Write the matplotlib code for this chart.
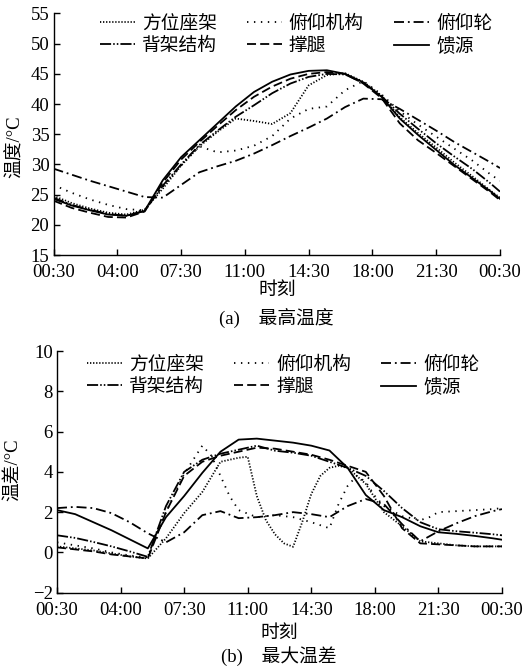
import matplotlib
matplotlib.use('Agg')
import matplotlib.pyplot as plt
from matplotlib.lines import Line2D

plt.rcParams['font.family'] = ['Liberation Serif', 'Noto Sans CJK SC']
plt.rcParams['axes.unicode_minus'] = True
plt.rcParams['lines.scale_dashes'] = False

# ---------------- data ----------------
hours = [0.5, 1.5, 2.5, 3.5, 4.5, 5.5, 6.5, 7.5, 8.5, 9.5, 10.5, 11.5, 12.5,
         13.5, 14.5, 15.5, 16.5, 17.5, 18.5, 19.5, 20.5, 21.5, 22.5, 23.5, 24.5, 25.0]
tick_hours = [0.5, 4, 7.5, 11, 14.5, 18, 21.5, 25]
tick_labels = ['00:30', '04:00', '07:30', '11:00', '14:30', '18:00', '21:30', '00:30']
names = ['方位座架', '俯仰机构', '俯仰轮', '背架结构', '撑腿', '馈源']

# (a) maximum temperature
t_fwzj = [24.8, 23.6, 22.7, 22.0, 21.7, 22.5, 26.0, 29.8, 33.0, 35.4, 37.6, 37.2, 36.7,
          38.5, 43.1, 44.8, 45.1, 43.7, 41.4, 37.8, 35.2, 32.8, 30.3, 28.0, 25.6, 24.5]
t_fyjg = [26.6, 25.3, 24.2, 23.3, 22.6, 22.4, 26.3, 29.8, 33.0, 32.0, 32.3, 33.1, 34.7,
          37.6, 39.2, 39.6, 42.3, 43.8, 41.6, 38.8, 36.6, 34.6, 32.6, 30.6, 28.3, 27.3]
t_fyl = [29.3, 28.3, 27.3, 26.4, 25.5, 24.6, 24.5, 26.6, 28.7, 29.7, 30.6, 31.8, 33.2,
         34.7, 36.1, 37.6, 39.5, 40.9, 40.8, 39.2, 37.4, 35.6, 33.7, 32.0, 30.3, 29.4]
t_bjjg = [24.5, 23.3, 22.5, 21.8, 21.5, 22.3, 26.5, 30.0, 33.2, 35.6, 37.9, 39.8, 41.8,
          43.4, 44.5, 45.0, 44.9, 43.5, 41.3, 38.4, 35.9, 33.5, 31.3, 29.2, 26.8, 25.5]
t_ct = [24.0, 22.8, 22.0, 21.3, 21.2, 22.2, 27.0, 30.8, 33.7, 36.4, 39.0, 41.2, 42.9,
        44.2, 45.0, 45.3, 45.0, 43.4, 41.0, 36.8, 34.0, 31.9, 29.7, 27.5, 25.3, 24.1]
t_ky = [24.3, 23.2, 22.4, 21.7, 21.5, 22.3, 27.4, 31.2, 34.0, 36.8, 39.6, 42.0, 43.7,
        44.9, 45.5, 45.6, 45.0, 43.6, 41.2, 37.6, 34.9, 32.4, 29.9, 27.7, 25.5, 24.3]

# (b) maximum temperature difference
d_hours_fwzj = [0.5, 1.5, 2.5, 3.5, 4.5, 5.5, 6.5, 7.5, 8.5, 9.5, 10.5, 11.0, 11.5, 12.0,
                12.5, 13.0, 13.5, 14.0, 14.5, 15.0, 15.5, 16.0, 16.5, 17.5, 18.5, 19.5,
                20.5, 21.5, 22.5, 23.5, 24.5, 25.0]
d_fwzj = [0.3, 0.2, 0.1, -0.05, -0.2, -0.3, 0.7, 1.95, 3.0, 4.5, 4.7, 4.75, 2.8, 1.6,
          0.9, 0.45, 0.28, 1.5, 2.9, 3.8, 4.2, 4.3, 4.2, 3.4, 2.0, 1.3,
          0.55, 0.45, 0.35, 0.3, 0.3, 0.3]
d_hours_fyjg = [0.5, 1.5, 2.5, 3.5, 4.5, 5.5, 6.5, 7.5, 8.5, 9.0, 9.5, 10.0, 10.5, 11.5,
                12.5, 13.5, 14.5, 15.5, 16.0, 16.5, 17.0, 17.5, 18.0, 18.5, 19.5, 20.5,
                21.0, 21.5, 22.5, 23.5, 24.5, 25.0]
d_fyjg = [0.5, 0.35, 0.2, 0.0, -0.15, -0.25, 2.0, 3.9, 5.3, 4.8, 3.8, 2.8, 2.1, 1.75,
          1.85, 1.75, 1.5, 1.2, 2.4, 3.3, 3.8, 3.5, 2.8, 2.3, 1.8, 1.6,
          1.75, 2.0, 2.05, 2.1, 2.15, 2.2]
d_fyl = [2.2, 2.26, 2.2, 1.95, 1.5, 0.95, 0.5, 1.0, 1.85, 2.05, 1.7, 1.75, 1.85,
         2.0, 1.9, 1.75, 2.3, 2.65, 2.4, 1.4, 0.55, 1.05, 1.45, 1.8, 2.05, 2.15]
d_bjjg = [0.85, 0.72, 0.52, 0.3, 0.05, -0.22, 2.3, 4.0, 4.6, 4.9, 5.1, 5.3, 5.05,
          4.95, 4.8, 4.5, 4.2, 3.8, 3.05, 2.2, 1.5, 1.15, 1.05, 0.98, 0.9, 0.85]
d_ct = [0.25, 0.15, 0.05, -0.1, -0.2, -0.3, 2.0, 3.8, 4.5, 4.8, 5.0, 5.2, 5.15,
        5.0, 4.85, 4.6, 4.3, 4.0, 2.8, 1.2, 0.45, 0.4, 0.35, 0.3, 0.3, 0.3]
d_ky = [2.1, 1.9, 1.5, 1.1, 0.65, 0.2, 1.75, 2.8, 3.95, 5.0, 5.6, 5.65, 5.55,
        5.45, 5.3, 5.06, 4.2, 2.85, 2.1, 1.75, 1.3, 1.0, 0.92, 0.82, 0.7, 0.63]

# ---------------- styles ----------------
LW = 1.3
styles = {
    '方位座架': dict(linestyle=(0, (0.9, 1.3))),
    '俯仰机构': dict(linestyle=(0, (1.0, 4.0))),
    '俯仰轮': dict(linestyle=(0, (7.2, 2.8, 1.3, 2.8))),
    '背架结构': dict(linestyle=(0, (8.0, 1.5, 1.1, 1.5, 1.1, 1.5))),
    '撑腿': dict(linestyle=(0, (6.5, 3.0))),
    '馈源': dict(linestyle='-'),
}

FS = 13.5
fig = plt.figure(figsize=(5.23, 6.69), dpi=100)

def style_axes(ax, ylim, yticks):
    ax.set_xlim(0.5, 25)
    ax.set_ylim(*ylim)
    ax.set_xticks(tick_hours)
    ax.set_xticklabels(tick_labels)
    ax.set_yticks(yticks)
    for s in ['top', 'right']:
        ax.spines[s].set_visible(False)
    for s in ['left', 'bottom']:
        ax.spines[s].set_linewidth(1.0)
    ax.tick_params(direction='in', length=4.5, width=1.0, labelsize=FS)
    ax.tick_params(axis='x', pad=6.5)
    ax.tick_params(axis='y', pad=3)

def legend(x, y):
    order = ['方位座架', '背架结构', '俯仰机构', '撑腿', '俯仰轮', '馈源']
    handles = [Line2D([0], [0], color='black', lw=LW, **styles[n]) for n in order]
    fig.legend(handles, order, loc='upper left', bbox_to_anchor=(x, y),
               ncol=3, frameon=False, fontsize=FS, handlelength=1.87,
               handletextpad=0.38, columnspacing=1.6, labelspacing=0.27,
               borderpad=0, borderaxespad=0)

# (a)
ax1 = fig.add_axes([53.5 / 523, 1 - 255 / 669, (500 - 53.5) / 523, (255 - 13.5) / 669])
series_a = [t_fwzj, t_fyjg, t_fyl, t_bjjg, t_ct, t_ky]
for n, ys in zip(names, series_a):
    ax1.plot(hours, ys, color='black', lw=LW, **styles[n])
style_axes(ax1, (15, 55), [15, 20, 25, 30, 35, 40, 45, 50, 55])
legend(99.5 / 523, 1 - 15 / 669)
fig.text(15 / 523, 1 - 147 / 669, '温度/°C', rotation=90, ha='center', va='center', fontsize=FS)
fig.text(277 / 523, 1 - 290 / 669, '时刻', ha='center', va='center', fontsize=FS)
fig.text(276 / 523, 1 - 318 / 669, '(a)\u3000最高温度', ha='center', va='center', fontsize=FS)

# (b)
ax2 = fig.add_axes([57 / 523, 1 - 592.7 / 669, (502 - 57) / 523, (592.7 - 351) / 669])
series_b = [(d_hours_fwzj, d_fwzj), (d_hours_fyjg, d_fyjg), (hours, d_fyl),
            (hours, d_bjjg), (hours, d_ct), (hours, d_ky)]
for n, (xs, ys) in zip(names, series_b):
    ax2.plot(xs, ys, color='black', lw=LW, **styles[n])
style_axes(ax2, (-2, 10), [-2, 0, 2, 4, 6, 8, 10])
legend(87 / 523, 1 - 356 / 669)
fig.text(13 / 523, 1 - 470 / 669, '温差/°C', rotation=90, ha='center', va='center', fontsize=FS)
fig.text(279 / 523, 1 - 633 / 669, '时刻', ha='center', va='center', fontsize=FS)
fig.text(279 / 523, 1 - 656 / 669, '(b)\u3000最大温差', ha='center', va='center', fontsize=FS)

fig.savefig('out.png', dpi=100)
